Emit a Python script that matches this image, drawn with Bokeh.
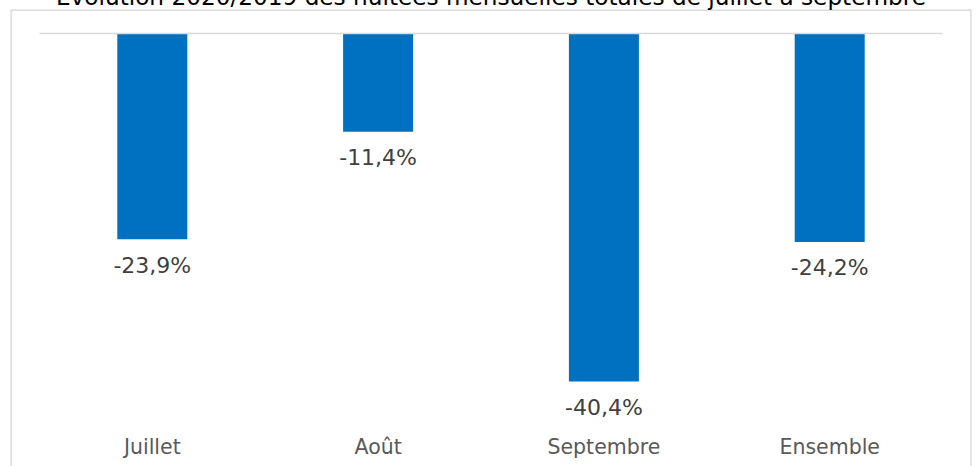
from bokeh.plotting import figure
from bokeh.models import ColumnDataSource, FactorRange, Range1d, Title, Span
from bokeh.core.properties import value
from bokeh.embed import file_html
from bokeh.resources import INLINE

# ---- data ----
categories = ["Juillet", "Août", "Septembre", "Ensemble"]
evolution = [-23.9, -11.4, -40.4, -24.2]
title_text = "Evolution 2020/2019 des nuitées mensuelles totales de juillet à septembre"

labels = [f"{v:.1f}%".replace(".", ",") for v in evolution]

# ---- layout ----
W, H = 974, 497
FRAME_TOP = 40            # canvas px where the grey box starts (page y = 9)
PX = 8.614                # px per percentage point
PAD = 0.128               # categorical padding on each side
y_top = 24 / PX           # zero line 24 px below the box top
y_bottom = y_top - (H - FRAME_TOP) / PX
cat_label_y = -(413 / PX)

src = ColumnDataSource(dict(cat=categories, val=evolution, lab=labels,
                            zero=[0] * len(categories)))

p = figure(
    x_range=FactorRange(*categories, range_padding=PAD, range_padding_units="absolute"),
    y_range=Range1d(y_bottom, y_top),
    width=W, height=H,
    output_backend="svg", toolbar_location=None,
    x_axis_location=None, y_axis_location=None,
    min_border_left=10, min_border_right=3, min_border_top=FRAME_TOP, min_border_bottom=0,
    styles={"margin-top": "-31px"},
)
p.title = Title(text=title_text, align="center", text_font_size="23.2px",
                text_font="DejaVu Sans", text_font_style="normal",
                text_color="#000000", standoff=0)
p.grid.visible = False
p.outline_line_color = None
p.background_fill_color = "white"
p.border_fill_color = "white"

# grey chart box (left, right and top edges; bottom lies below the window)
box_color = "#d4d4d4"
p.add_layout(Span(location=-PAD, dimension="height", line_color=box_color, line_width=2.4))
p.add_layout(Span(location=len(categories) + PAD, dimension="height", line_color=box_color, line_width=2.4))
p.add_layout(Span(location=y_top, dimension="width", line_color=box_color, line_width=2.4))

p.vbar(x="cat", top="zero", bottom="val", width=0.31, source=src,
       fill_color="#0070C0", line_color=None)

p.segment(x0=[0], y0=[0], x1=[len(categories)], y1=[0],
          line_color="#d9d9d9", line_width=1.5)

p.text(x="cat", y="val", text="lab", source=src, y_offset=26,
       text_align="center", text_baseline="middle",
       text_font=value("DejaVu Sans"), text_font_size="22px", text_color="#404040")

p.text(x="cat", y=cat_label_y, text="cat", source=src,
       text_align="center", text_baseline="middle",
       text_font=value("DejaVu Sans"), text_font_size="20.5px", text_color="#595959")

open("out.html", "w").write(file_html(p, INLINE))
